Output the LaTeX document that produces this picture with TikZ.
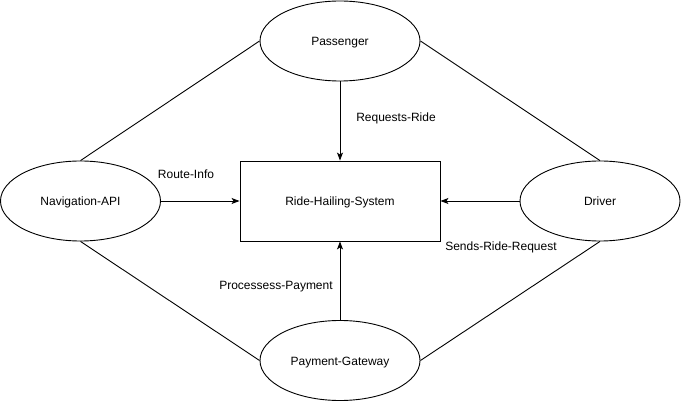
\documentclass[tikz,border=0pt]{standalone}
\usepackage{fontspec}
\setmainfont{Liberation Sans}
\usetikzlibrary{shapes.geometric,arrows.meta}
\begin{document}
\begin{tikzpicture}[x=1pt,y=-1pt,
  txt/.style={font=\fontsize{12}{14}\selectfont,text height=10.5pt,text depth=1.5pt},
  ent/.style={ellipse,draw,line width=0.9pt,minimum width=160pt,minimum height=80pt,inner sep=0pt,txt},
  sys/.style={rectangle,draw,line width=0.9pt,minimum width=200pt,minimum height=80pt,inner sep=0pt,txt},
  lbl/.style={txt,inner sep=0pt},
  conn/.style={line width=0.9pt},
  arr/.style={line width=0.9pt,-{Stealth[length=8pt,width=6pt,inset=2pt]}}]
\useasboundingbox (0,0) rectangle (681,401);
\node[ent] (pass) at (340,41) {Passenger};
\node[ent] (nav) at (80.5,201) {Navigation-API};
\node[ent] (drv) at (600,201) {Driver};
\node[ent] (pay) at (340,360.5) {Payment-Gateway};
\node[sys] (rhs) at (340,201) {Ride-Hailing-System};
\draw[conn] (pass.west) -- (nav.north);
\draw[conn] (pass.east) -- (drv.north);
\draw[conn] (nav.south) -- (pay.west);
\draw[conn] (pay.east) -- (drv.south);
\draw[arr] (pass.south) -- (rhs.north);
\draw[arr] (nav.east) -- (rhs.west);
\draw[arr] (drv.west) -- (rhs.east);
\draw[arr] (pay.north) -- (rhs.south);
\node[lbl] (l1) at (396,117.5) {Requests-Ride};
\node[lbl] (l2) at (186,174.5) {Route-Info};
\node[lbl] (l3) at (501,246.5) {Sends-Ride-Request};
\node[lbl] (l4) at (276,285.5) {Processess-Payment};
\end{tikzpicture}
\end{document}
